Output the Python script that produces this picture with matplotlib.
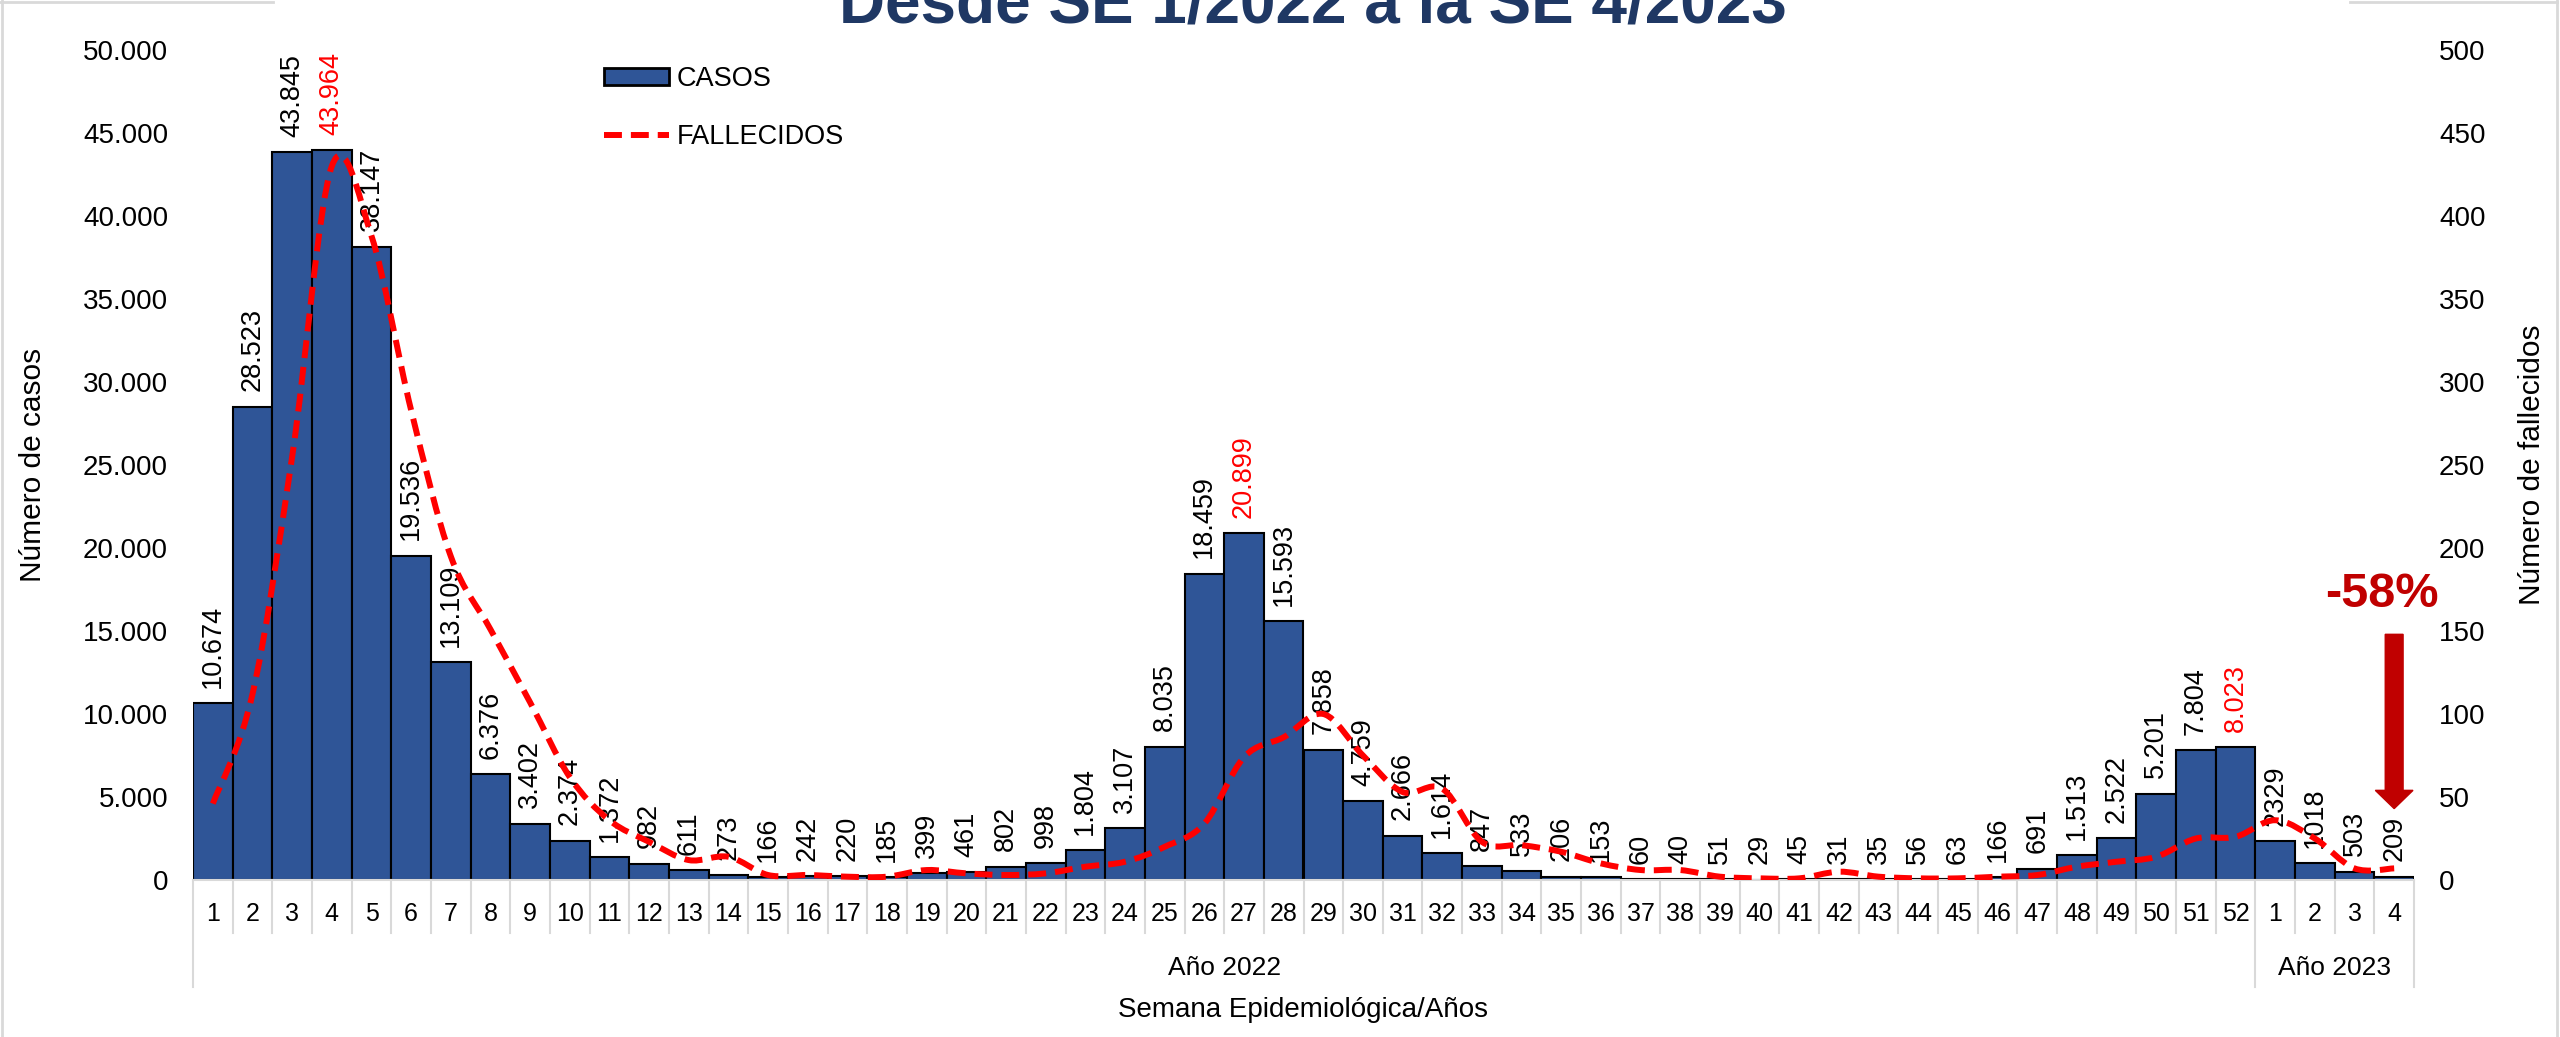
import numpy as np
import matplotlib
matplotlib.use("Agg")
import matplotlib.pyplot as plt
from matplotlib.path import Path
from matplotlib.patches import PathPatch, Patch, FancyArrow
from matplotlib.lines import Line2D

plt.rcParams["font.family"] = ["Liberation Sans", "DejaVu Sans"]

# Datos: semanas epidemiológicas 2022 (1-52) y 2023 (1-4)
semanas_2022 = list(range(1, 53))
semanas_2023 = [1, 2, 3, 4]
casos = [
    10674, 28523, 43845, 43964, 38147, 19536, 13109, 6376, 3402, 2374,
    1372, 982, 611, 273, 166, 242, 220, 185, 399, 461,
    802, 998, 1804, 3107, 8035, 18459, 20899, 15593, 7858, 4759,
    2666, 1614, 847, 533, 206, 153, 60, 40, 51, 29,
    45, 31, 35, 56, 63, 166, 691, 1513, 2522, 5201,
    7804, 8023,
    2329, 1018, 503, 209,
]
fallecidos = [
    46, 112, 255, 430, 388, 283, 195, 151, 107, 62,
    36, 23, 12, 14, 3, 3, 2, 2, 6, 4,
    3, 4, 8, 11, 20, 34, 74, 86, 100, 75,
    53, 55, 23, 21, 17, 10, 6, 6, 2, 1,
    1, 5, 2, 1, 1, 2, 3, 8, 11, 14,
    25, 26,
    36, 25, 7, 7,
]
# semanas con etiqueta en rojo (picos de cada ola), índice en la serie
picos = [3, 26, 51]

AZUL = "#2F5597"
ROJO = "#FF0000"
GRIS = "#D9D9D9"


def fmt_miles(v):
    return f"{v:,}".replace(",", ".")


def curva_suave(x, y):
    # curva tipo Excel (Catmull-Rom -> Bezier cúbica)
    verts = [(x[0], y[0])]
    codes = [Path.MOVETO]
    n = len(x)
    for i in range(n - 1):
        xa, ya = (x[i - 1], y[i - 1]) if i > 0 else (x[i], y[i])
        xd, yd = (x[i + 2], y[i + 2]) if i + 2 < n else (x[i + 1], y[i + 1])
        c1 = (x[i] + (x[i + 1] - xa) / 6, y[i] + (y[i + 1] - ya) / 6)
        c2 = (x[i + 1] - (xd - x[i]) / 6, y[i + 1] - (yd - y[i]) / 6)
        verts += [c1, c2, (x[i + 1], y[i + 1])]
        codes += [Path.CURVE4] * 3
    return Path(verts, codes)


W, H = 2560, 1037
fig = plt.figure(figsize=(W / 100, H / 100), dpi=100)
ax = fig.add_axes([193 / W, 1 - 880 / H, (2414 - 193) / W, 830 / H])
ax2 = ax.twinx()

n = len(casos)
x = np.arange(n)
etiquetas_x = [str(s) for s in semanas_2022 + semanas_2023]

ax.bar(x, casos, width=1.0, color=AZUL, edgecolor="black", linewidth=1.5, zorder=2)
ax.set_xlim(-0.5, n - 0.5)
ax.set_ylim(0, 50000)
ax2.set_ylim(0, 500)

# etiquetas de datos
for i, v in enumerate(casos):
    txt = fmt_miles(v) if i < len(semanas_2022) else str(v)
    ax.annotate(txt, (i, v), xytext=(0, 11), textcoords="offset points",
                rotation=90, ha="center", va="bottom", fontsize=19.5,
                color=ROJO if i in picos else "black", annotation_clip=False,
                zorder=3)

# línea suavizada de fallecidos
estilo = (0, (3, 1.5))
ax2.add_patch(PathPatch(curva_suave(x, fallecidos), fill=False, edgecolor=ROJO,
                        linewidth=4.3, linestyle=estilo, capstyle="butt"))

# ejes
for s in ["top", "left", "right"]:
    ax.spines[s].set_visible(False)
    ax2.spines[s].set_visible(False)
ax2.spines["bottom"].set_visible(False)
ax.spines["bottom"].set_color(GRIS)
ax.spines["bottom"].set_linewidth(1.5)

ax.set_yticks(np.arange(0, 50001, 5000))
ax.set_yticklabels([fmt_miles(v) for v in range(0, 50001, 5000)])
ax.tick_params(axis="y", length=0, pad=18, labelsize=20)
ax2.set_yticks(np.arange(0, 501, 50))
ax2.tick_params(axis="y", length=0, pad=18, labelsize=20)
ax.set_xticks(x)
ax.set_xticklabels(etiquetas_x)
ax.tick_params(axis="x", length=0, pad=16, labelsize=18)

# separadores de categorías
trans = ax.get_xaxis_transform()
grupos = [0, len(semanas_2022), n]
for k in range(n + 1):
    y_fin = -0.129 if k in grupos else -0.064
    ax.plot([k - 0.5, k - 0.5], [0, y_fin], color=GRIS, lw=1.5,
            transform=trans, clip_on=False)

ax.text((len(semanas_2022) - 1) / 2, -0.106, "Año 2022", transform=trans,
        ha="center", va="center", fontsize=19)
ax.text(len(semanas_2022) + (len(semanas_2023) - 1) / 2, -0.106, "Año 2023",
        transform=trans, ha="center", va="center", fontsize=19)
ax.text(0.5, -0.157, "Semana Epidemiológica/Años", transform=ax.transAxes,
        ha="center", va="center", fontsize=20)

fig.text(33 / W, 1 - 465 / H, "Número de casos", rotation=90,
         ha="center", va="center", fontsize=21.5)
fig.text(2532 / W, 1 - 465 / H, "Número de fallecidos", rotation=90,
         ha="center", va="center", fontsize=21.5)

# título (cortado en la parte superior, como en el original)
fig.text(1313 / W, 1 - 23 / H, "Desde SE 1/2022 a la SE 4/2023",
         ha="center", va="baseline", fontsize=46, fontweight="bold",
         color="#1F3864")

# leyenda
handles = [
    Patch(facecolor=AZUL, edgecolor="black", linewidth=2),
    Line2D([], [], color=ROJO, linewidth=4.3, linestyle=estilo),
]
fig.legend(handles, ["CASOS", "FALLECIDOS"], loc="upper left",
           bbox_to_anchor=(604 / W, 1 - 66 / H), frameon=False, fontsize=19.5,
           handlelength=2.4, handleheight=0.6, handletextpad=0.3,
           labelspacing=1.2, borderpad=0, borderaxespad=0)

# flecha y porcentaje
ax.add_patch(FancyArrow(55, 14800, 0, -10500, width=0.45, head_width=0.95,
                        head_length=1100, length_includes_head=True,
                        color="#C00000", zorder=4, clip_on=False))
ax.text(54.7, 17200, "-58%", ha="center", va="center", fontsize=35,
        fontweight="bold", color="#C00000", clip_on=False)

# borde gris del gráfico
for xs, ys in [([1.5, 1.5], [0, H]), ([0, 273], [2, 2]),
               ([2350, 2557], [2, 2]), ([2557, 2557], [0, H])]:
    fig.add_artist(Line2D([v / W for v in xs], [1 - v / H for v in ys],
                          color=GRIS, lw=2))

fig.savefig("out.png", dpi=100)
